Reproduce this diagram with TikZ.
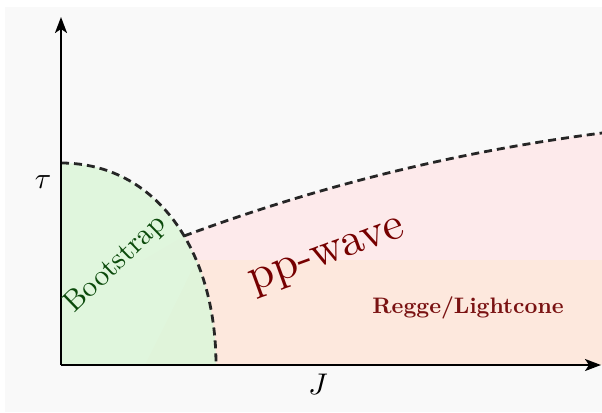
\documentclass[tikz,border=0pt]{standalone}
\usepackage{fontspec}
\usetikzlibrary{arrows.meta}
\definecolor{bgcol}{HTML}{F9F9F9}
\definecolor{greenfill}{HTML}{DDF6DA}
\definecolor{pinkfill}{HTML}{FDEAEB}
\definecolor{orangefill}{HTML}{FDE8DD}
\definecolor{bootgreen}{HTML}{0B4A0B}
\definecolor{darkred}{HTML}{760000}
\definecolor{reggered}{HTML}{7A1212}
\begin{document}
\begin{tikzpicture}[x=1bp,y=-1bp,
  axis/.style={line width=2.2bp,-{Stealth[length=16bp,width=12bp,inset=4bp]}},
  border/.style={line width=2.8bp,dash pattern=on 8bp off 5bp,color=black!85},
  lbl/.style={inner sep=0pt},
  heavy/.style={font=\addfontfeatures{FakeBold=0.9}}]
\useasboundingbox (0,0) rectangle (602,412);
\fill[white] (0,0) rectangle (602,412);
\fill[bgcol] (5,7) rectangle (602,412);
% coordinates
\coordinate (O) at (61,365);
\coordinate (Ytip) at (61,17);
\coordinate (Xtip) at (601,365);
\coordinate (Btop) at (61,163);
\coordinate (Bbot) at (216,365);
\coordinate (Cstart) at (184,236);
\coordinate (Cend) at (602,133);
% regions
\fill[pinkfill] (143,260) -- (Cstart) .. controls (324,184) and (462,151) .. (Cend) -- (602,260) -- cycle;
\fill[orangefill] (145,365) -- (197,260) -- (602,260) -- (602,365) -- cycle;
\fill[greenfill,opacity=0.88] (O) -- (Btop) .. controls (156,163) and (216,250) .. (Bbot) -- cycle;
% borders
\draw[border] (Btop) .. controls (156,163) and (216,250) .. (Bbot);
\draw[border] (Cstart) .. controls (324,184) and (462,151) .. (Cend);
% axes
\draw[axis] (O) -- (Ytip);
\draw[axis] (O) -- (Xtip);
% labels
\node[lbl,scale=3] (tau) at (43,182) {$\tau$};
\node[lbl,scale=3] (J) at (318,384) {$J$};
\node[lbl,heavy,text=bootgreen,rotate=44,scale=2.95] (boot) at (116,264) {Bootstrap};
\node[lbl,heavy,text=darkred,rotate=20,scale=4.6] (pp) at (328,258) {pp-wave};
\node[lbl,heavy,text=reggered,scale=2.25] (regge) at (468,308) {\bfseries Regge/Lightcone};
\end{tikzpicture}
\end{document}
